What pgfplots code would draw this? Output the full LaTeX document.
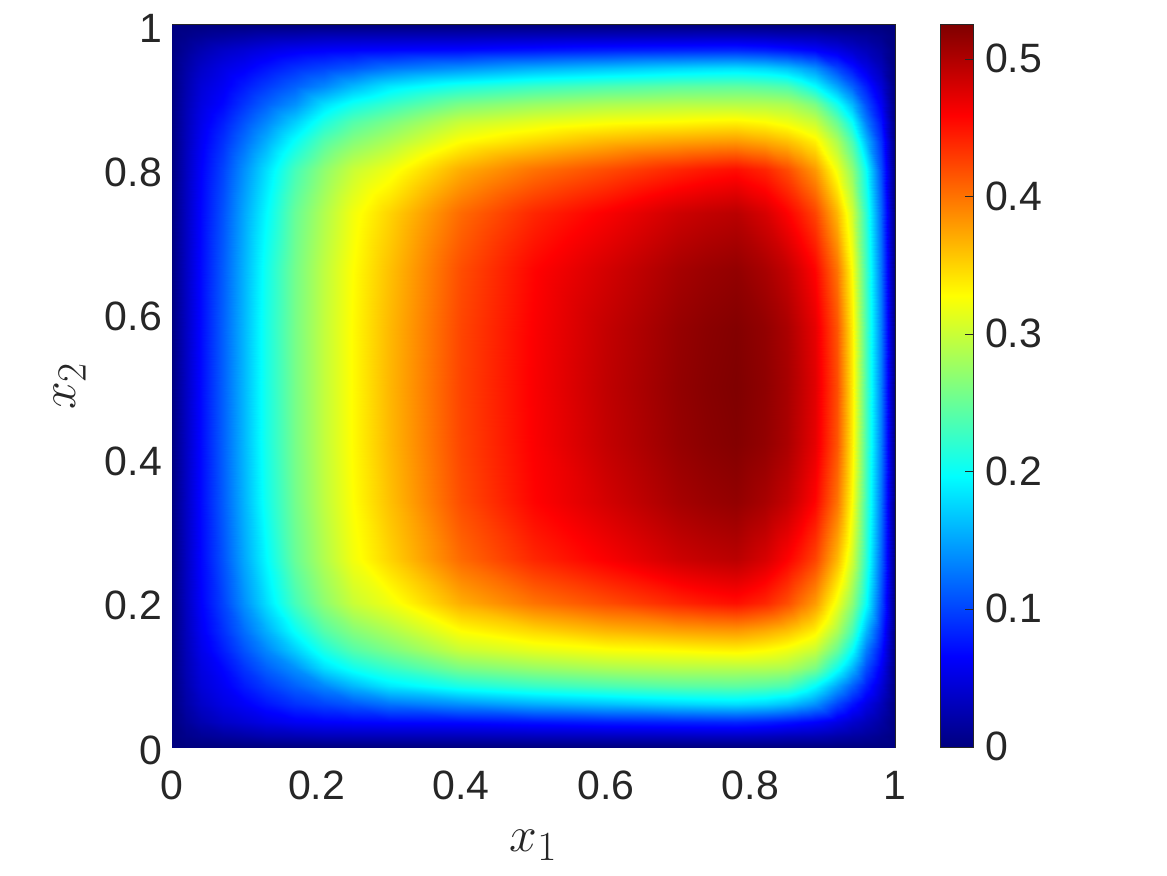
\documentclass[border=0pt]{standalone}
\usepackage{fontspec}
\setmainfont{Liberation Sans}
\usepackage{pgfplots}
\pgfplotsset{compat=1.18}
\definecolor{axc}{rgb}{0.15,0.15,0.15}
\pgfplotsset{colormap={mjet}{rgb(0pt)=(0,0,0.5); rgb(1pt)=(0,0,1); rgb(3pt)=(0,1,1); rgb(5pt)=(1,1,0); rgb(7pt)=(1,0,0); rgb(8pt)=(0.5,0,0)}}
\begin{document}
\begin{tikzpicture}
\path[use as bounding box] (0,0) rectangle (583.5pt,437.5pt);
\begin{axis}[
  at={(86pt,64pt)},anchor=south west,scale only axis,width=361.5pt,height=361pt,
  xmin=0,xmax=1,ymin=0,ymax=1,
  colormap name=mjet,point meta min=0,point meta max=0.525,
  enlargelimits=false,axis on top=false,
  axis line style={axc,line width=0.5pt},
  tick style={draw=none},
  xtick={0,0.2,0.4,0.6,0.8,1},xticklabels={0,0.2,0.4,0.6,0.8,1},
  ytick={0,0.2,0.4,0.6,0.8,1},yticklabels={0,0.2,0.4,0.6,0.8,1},
  ticklabel style={font=\fontsize{20.5}{24}\selectfont,text=axc},
  xticklabel style={yshift=-8.5pt},yticklabel style={xshift=-1.5pt,yshift=-1.5pt},
  xlabel={$x_1$},ylabel={$x_2$},
  label style={font=\fontsize{29}{34}\selectfont,text=axc},
  xlabel style={at={(axis description cs:0.5,-0.136)},anchor=center},
  ylabel style={at={(axis description cs:-0.141,0.5)},anchor=center},
]
\addplot[surf,shader=interp,mesh/cols=25,point meta=\thisrow{z}] table[row sep=\\,x=x,y=y]{
x y z\\
0 0 0\\ .02 0 0\\ .04 0 0\\ .07 0 0\\ .1 0 0\\ .13 0 0\\ .17 0 0\\ .21 0 0\\ .25 0 0\\ .3 0 0\\ .4 0 0\\ .5 0 0\\ .6 0 0\\ .7 0 0\\ .74 0 0\\ .78 0 0\\ .82 0 0\\ .85 0 0\\ .87 0 0\\ .89 0 0\\ .92 0 0\\ .94 0 0\\ .96 0 0\\ .98 0 0\\ 1 0 0\\
0 .015 0\\ .02 .015 .006\\ .04 .015 .011\\ .07 .015 .016\\ .1 .015 .02\\ .13 .015 .025\\ .17 .015 .027\\ .21 .015 .03\\ .25 .015 .03\\ .3 .015 .03\\ .4 .015 .03\\ .5 .015 .032\\ .6 .015 .033\\ .7 .015 .034\\ .74 .015 .035\\ .78 .015 .035\\ .82 .015 .033\\ .85 .015 .03\\ .87 .015 .029\\ .89 .015 .028\\ .92 .015 .022\\ .94 .015 .018\\ .96 .015 .014\\ .98 .015 .008\\ 1 .015 0\\
0 .035 0\\ .02 .035 .013\\ .04 .035 .025\\ .07 .035 .037\\ .1 .035 .044\\ .13 .035 .052\\ .17 .035 .06\\ .21 .035 .064\\ .25 .035 .066\\ .3 .035 .068\\ .4 .035 .07\\ .5 .035 .075\\ .6 .035 .08\\ .7 .035 .083\\ .74 .035 .084\\ .78 .035 .085\\ .82 .035 .081\\ .85 .035 .075\\ .87 .035 .07\\ .89 .035 .065\\ .92 .035 .052\\ .94 .035 .04\\ .96 .035 .03\\ .98 .035 .018\\ 1 .035 0\\
0 .06 0\\ .02 .06 .02\\ .04 .06 .037\\ .07 .06 .052\\ .1 .06 .062\\ .13 .06 .075\\ .17 .06 .09\\ .21 .06 .1\\ .25 .06 .11\\ .3 .06 .125\\ .4 .06 .14\\ .5 .06 .155\\ .6 .06 .165\\ .7 .06 .175\\ .74 .06 .178\\ .78 .06 .18\\ .82 .06 .175\\ .85 .06 .165\\ .87 .06 .153\\ .89 .06 .14\\ .92 .06 .1\\ .94 .06 .075\\ .96 .06 .052\\ .98 .06 .03\\ 1 .06 0\\
0 .085 0\\ .02 .085 .024\\ .04 .085 .045\\ .07 .085 .06\\ .1 .085 .078\\ .13 .085 .095\\ .17 .085 .115\\ .21 .085 .135\\ .25 .085 .16\\ .3 .085 .185\\ .4 .085 .21\\ .5 .085 .225\\ .6 .085 .235\\ .7 .085 .243\\ .74 .085 .244\\ .78 .085 .245\\ .82 .085 .241\\ .85 .085 .235\\ .87 .085 .218\\ .89 .085 .197\\ .92 .085 .15\\ .94 .085 .115\\ .96 .085 .08\\ .98 .085 .045\\ 1 .085 0\\
0 .11 0\\ .02 .11 .027\\ .04 .11 .05\\ .07 .11 .068\\ .1 .11 .092\\ .13 .11 .115\\ .17 .11 .14\\ .21 .11 .18\\ .25 .11 .205\\ .3 .11 .225\\ .4 .11 .26\\ .5 .11 .275\\ .6 .11 .285\\ .7 .11 .29\\ .74 .11 .29\\ .78 .11 .29\\ .82 .11 .289\\ .85 .11 .285\\ .87 .11 .274\\ .89 .11 .26\\ .92 .11 .205\\ .94 .11 .16\\ .96 .11 .105\\ .98 .11 .06\\ 1 .11 0\\
0 .135 0\\ .02 .135 .029\\ .04 .135 .055\\ .07 .135 .08\\ .1 .135 .108\\ .13 .135 .135\\ .17 .135 .172\\ .21 .135 .212\\ .25 .135 .24\\ .3 .135 .26\\ .4 .135 .3\\ .5 .135 .315\\ .6 .135 .325\\ .7 .135 .33\\ .74 .135 .333\\ .78 .135 .335\\ .82 .135 .329\\ .85 .135 .32\\ .87 .135 .31\\ .89 .135 .3\\ .92 .135 .25\\ .94 .135 .2\\ .96 .135 .13\\ .98 .135 .075\\ 1 .135 0\\
0 .16 0\\ .02 .16 .031\\ .04 .16 .06\\ .07 .16 .09\\ .1 .16 .122\\ .13 .16 .155\\ .17 .16 .2\\ .21 .16 .24\\ .25 .16 .265\\ .3 .16 .285\\ .4 .16 .328\\ .5 .16 .348\\ .6 .16 .365\\ .7 .16 .375\\ .74 .16 .378\\ .78 .16 .38\\ .82 .16 .371\\ .85 .16 .36\\ .87 .16 .348\\ .89 .16 .335\\ .92 .16 .285\\ .94 .16 .235\\ .96 .16 .16\\ .98 .16 .09\\ 1 .16 0\\
0 .2 0\\ .02 .2 .033\\ .04 .2 .065\\ .07 .2 .1\\ .1 .2 .14\\ .13 .2 .18\\ .17 .2 .232\\ .21 .2 .27\\ .25 .2 .3\\ .3 .2 .32\\ .4 .2 .37\\ .5 .2 .4\\ .6 .2 .42\\ .7 .2 .44\\ .74 .2 .447\\ .78 .2 .452\\ .82 .2 .44\\ .85 .2 .42\\ .87 .2 .4\\ .89 .2 .38\\ .92 .2 .32\\ .94 .2 .27\\ .96 .2 .2\\ .98 .2 .105\\ 1 .2 0\\
0 .26 0\\ .02 .26 .034\\ .04 .26 .068\\ .07 .26 .108\\ .1 .26 .152\\ .13 .26 .195\\ .17 .26 .25\\ .21 .26 .288\\ .25 .26 .322\\ .3 .26 .35\\ .4 .26 .405\\ .5 .26 .44\\ .6 .26 .462\\ .7 .26 .485\\ .74 .26 .491\\ .78 .26 .495\\ .82 .26 .48\\ .85 .26 .46\\ .87 .26 .444\\ .89 .26 .425\\ .92 .26 .365\\ .94 .26 .305\\ .96 .26 .22\\ .98 .26 .118\\ 1 .26 0\\
0 .34 0\\ .02 .34 .035\\ .04 .34 .07\\ .07 .34 .113\\ .1 .34 .158\\ .13 .34 .205\\ .17 .34 .256\\ .21 .34 .295\\ .25 .34 .328\\ .3 .34 .36\\ .4 .34 .42\\ .5 .34 .458\\ .6 .34 .482\\ .7 .34 .505\\ .74 .34 .511\\ .78 .34 .515\\ .82 .34 .504\\ .85 .34 .49\\ .87 .34 .475\\ .89 .34 .458\\ .92 .34 .4\\ .94 .34 .328\\ .96 .34 .23\\ .98 .34 .125\\ 1 .34 0\\
0 .42 0\\ .02 .42 .035\\ .04 .42 .07\\ .07 .42 .115\\ .1 .42 .16\\ .13 .42 .208\\ .17 .42 .258\\ .21 .42 .297\\ .25 .42 .33\\ .3 .42 .364\\ .4 .42 .424\\ .5 .42 .461\\ .6 .42 .49\\ .7 .42 .513\\ .74 .42 .519\\ .78 .42 .523\\ .82 .42 .515\\ .85 .42 .503\\ .87 .42 .488\\ .89 .42 .472\\ .92 .42 .416\\ .94 .42 .338\\ .96 .42 .234\\ .98 .42 .13\\ 1 .42 0\\
0 .5 0\\ .02 .5 .035\\ .04 .5 .07\\ .07 .5 .115\\ .1 .5 .16\\ .13 .5 .208\\ .17 .5 .258\\ .21 .5 .297\\ .25 .5 .33\\ .3 .5 .365\\ .4 .5 .425\\ .5 .5 .462\\ .6 .5 .492\\ .7 .5 .515\\ .74 .5 .521\\ .78 .5 .525\\ .82 .5 .517\\ .85 .5 .505\\ .87 .5 .491\\ .89 .5 .475\\ .92 .5 .42\\ .94 .5 .34\\ .96 .5 .235\\ .98 .5 .13\\ 1 .5 0\\
0 .58 0\\ .02 .58 .035\\ .04 .58 .07\\ .07 .58 .115\\ .1 .58 .16\\ .13 .58 .208\\ .17 .58 .258\\ .21 .58 .297\\ .25 .58 .33\\ .3 .58 .364\\ .4 .58 .424\\ .5 .58 .461\\ .6 .58 .49\\ .7 .58 .513\\ .74 .58 .519\\ .78 .58 .523\\ .82 .58 .515\\ .85 .58 .503\\ .87 .58 .488\\ .89 .58 .472\\ .92 .58 .416\\ .94 .58 .338\\ .96 .58 .234\\ .98 .58 .13\\ 1 .58 0\\
0 .66 0\\ .02 .66 .035\\ .04 .66 .07\\ .07 .66 .113\\ .1 .66 .158\\ .13 .66 .205\\ .17 .66 .256\\ .21 .66 .295\\ .25 .66 .328\\ .3 .66 .36\\ .4 .66 .42\\ .5 .66 .458\\ .6 .66 .482\\ .7 .66 .505\\ .74 .66 .511\\ .78 .66 .515\\ .82 .66 .504\\ .85 .66 .49\\ .87 .66 .475\\ .89 .66 .458\\ .92 .66 .4\\ .94 .66 .328\\ .96 .66 .23\\ .98 .66 .125\\ 1 .66 0\\
0 .74 0\\ .02 .74 .034\\ .04 .74 .068\\ .07 .74 .108\\ .1 .74 .152\\ .13 .74 .195\\ .17 .74 .25\\ .21 .74 .288\\ .25 .74 .322\\ .3 .74 .35\\ .4 .74 .405\\ .5 .74 .44\\ .6 .74 .462\\ .7 .74 .485\\ .74 .74 .491\\ .78 .74 .495\\ .82 .74 .48\\ .85 .74 .46\\ .87 .74 .444\\ .89 .74 .425\\ .92 .74 .365\\ .94 .74 .305\\ .96 .74 .22\\ .98 .74 .118\\ 1 .74 0\\
0 .8 0\\ .02 .8 .033\\ .04 .8 .065\\ .07 .8 .1\\ .1 .8 .14\\ .13 .8 .18\\ .17 .8 .232\\ .21 .8 .27\\ .25 .8 .3\\ .3 .8 .32\\ .4 .8 .37\\ .5 .8 .4\\ .6 .8 .42\\ .7 .8 .44\\ .74 .8 .447\\ .78 .8 .452\\ .82 .8 .44\\ .85 .8 .42\\ .87 .8 .4\\ .89 .8 .38\\ .92 .8 .32\\ .94 .8 .27\\ .96 .8 .2\\ .98 .8 .105\\ 1 .8 0\\
0 .84 0\\ .02 .84 .031\\ .04 .84 .06\\ .07 .84 .09\\ .1 .84 .122\\ .13 .84 .155\\ .17 .84 .2\\ .21 .84 .24\\ .25 .84 .265\\ .3 .84 .285\\ .4 .84 .328\\ .5 .84 .348\\ .6 .84 .365\\ .7 .84 .375\\ .74 .84 .378\\ .78 .84 .38\\ .82 .84 .371\\ .85 .84 .36\\ .87 .84 .348\\ .89 .84 .335\\ .92 .84 .285\\ .94 .84 .235\\ .96 .84 .16\\ .98 .84 .09\\ 1 .84 0\\
0 .865 0\\ .02 .865 .029\\ .04 .865 .055\\ .07 .865 .08\\ .1 .865 .108\\ .13 .865 .135\\ .17 .865 .172\\ .21 .865 .212\\ .25 .865 .24\\ .3 .865 .26\\ .4 .865 .3\\ .5 .865 .315\\ .6 .865 .325\\ .7 .865 .33\\ .74 .865 .333\\ .78 .865 .335\\ .82 .865 .329\\ .85 .865 .32\\ .87 .865 .31\\ .89 .865 .3\\ .92 .865 .25\\ .94 .865 .2\\ .96 .865 .13\\ .98 .865 .075\\ 1 .865 0\\
0 .89 0\\ .02 .89 .027\\ .04 .89 .05\\ .07 .89 .068\\ .1 .89 .092\\ .13 .89 .115\\ .17 .89 .14\\ .21 .89 .18\\ .25 .89 .205\\ .3 .89 .225\\ .4 .89 .26\\ .5 .89 .275\\ .6 .89 .285\\ .7 .89 .29\\ .74 .89 .29\\ .78 .89 .29\\ .82 .89 .289\\ .85 .89 .285\\ .87 .89 .274\\ .89 .89 .26\\ .92 .89 .205\\ .94 .89 .16\\ .96 .89 .105\\ .98 .89 .06\\ 1 .89 0\\
0 .915 0\\ .02 .915 .024\\ .04 .915 .045\\ .07 .915 .06\\ .1 .915 .078\\ .13 .915 .095\\ .17 .915 .115\\ .21 .915 .135\\ .25 .915 .16\\ .3 .915 .185\\ .4 .915 .21\\ .5 .915 .225\\ .6 .915 .235\\ .7 .915 .243\\ .74 .915 .244\\ .78 .915 .245\\ .82 .915 .241\\ .85 .915 .235\\ .87 .915 .218\\ .89 .915 .197\\ .92 .915 .15\\ .94 .915 .115\\ .96 .915 .08\\ .98 .915 .045\\ 1 .915 0\\
0 .94 0\\ .02 .94 .02\\ .04 .94 .037\\ .07 .94 .052\\ .1 .94 .062\\ .13 .94 .075\\ .17 .94 .09\\ .21 .94 .1\\ .25 .94 .11\\ .3 .94 .125\\ .4 .94 .14\\ .5 .94 .155\\ .6 .94 .165\\ .7 .94 .175\\ .74 .94 .178\\ .78 .94 .18\\ .82 .94 .175\\ .85 .94 .165\\ .87 .94 .153\\ .89 .94 .14\\ .92 .94 .1\\ .94 .94 .075\\ .96 .94 .052\\ .98 .94 .03\\ 1 .94 0\\
0 .965 0\\ .02 .965 .013\\ .04 .965 .025\\ .07 .965 .037\\ .1 .965 .044\\ .13 .965 .052\\ .17 .965 .06\\ .21 .965 .064\\ .25 .965 .066\\ .3 .965 .068\\ .4 .965 .07\\ .5 .965 .075\\ .6 .965 .08\\ .7 .965 .083\\ .74 .965 .084\\ .78 .965 .085\\ .82 .965 .081\\ .85 .965 .075\\ .87 .965 .07\\ .89 .965 .065\\ .92 .965 .052\\ .94 .965 .04\\ .96 .965 .03\\ .98 .965 .018\\ 1 .965 0\\
0 .985 0\\ .02 .985 .006\\ .04 .985 .011\\ .07 .985 .016\\ .1 .985 .02\\ .13 .985 .025\\ .17 .985 .027\\ .21 .985 .03\\ .25 .985 .03\\ .3 .985 .03\\ .4 .985 .03\\ .5 .985 .032\\ .6 .985 .033\\ .7 .985 .034\\ .74 .985 .035\\ .78 .985 .035\\ .82 .985 .033\\ .85 .985 .03\\ .87 .985 .029\\ .89 .985 .028\\ .92 .985 .022\\ .94 .985 .018\\ .96 .985 .014\\ .98 .985 .008\\ 1 .985 0\\
0 1 0\\ .02 1 0\\ .04 1 0\\ .07 1 0\\ .1 1 0\\ .13 1 0\\ .17 1 0\\ .21 1 0\\ .25 1 0\\ .3 1 0\\ .4 1 0\\ .5 1 0\\ .6 1 0\\ .7 1 0\\ .74 1 0\\ .78 1 0\\ .82 1 0\\ .85 1 0\\ .87 1 0\\ .89 1 0\\ .92 1 0\\ .94 1 0\\ .96 1 0\\ .98 1 0\\ 1 1 0\\
};
\end{axis}
\begin{axis}[
  at={(470pt,64pt)},anchor=south west,scale only axis,width=16.5pt,height=361pt,
  xmin=0,xmax=1,ymin=0,ymax=0.525,
  colormap name=mjet,point meta min=0,point meta max=0.525,
  enlargelimits=false,axis on top,
  axis line style={axc,line width=0.5pt},
  xtick=\empty,
  ytick={0,0.1,0.2,0.3,0.4,0.5},yticklabels={0,0.1,0.2,0.3,0.4,0.5},
  tick align=inside,major tick length=4pt,tick style={draw=axc,line width=0.5pt},
  ytick pos=right,yticklabel pos=right,
  yticklabel style={font=\fontsize{20.5}{24}\selectfont,text=axc,xshift=2.5pt,yshift=0.5pt},
]
\addplot[surf,shader=interp,mesh/cols=2,point meta=y] table[row sep=\\]{
x y\\
-0.2 -0.01\\ 1.2 -0.01\\
-0.2 0\\ 1.2 0\\
-0.2 0.525\\ 1.2 0.525\\
-0.2 0.535\\ 1.2 0.535\\
};
\end{axis}
\end{tikzpicture}
\end{document}
